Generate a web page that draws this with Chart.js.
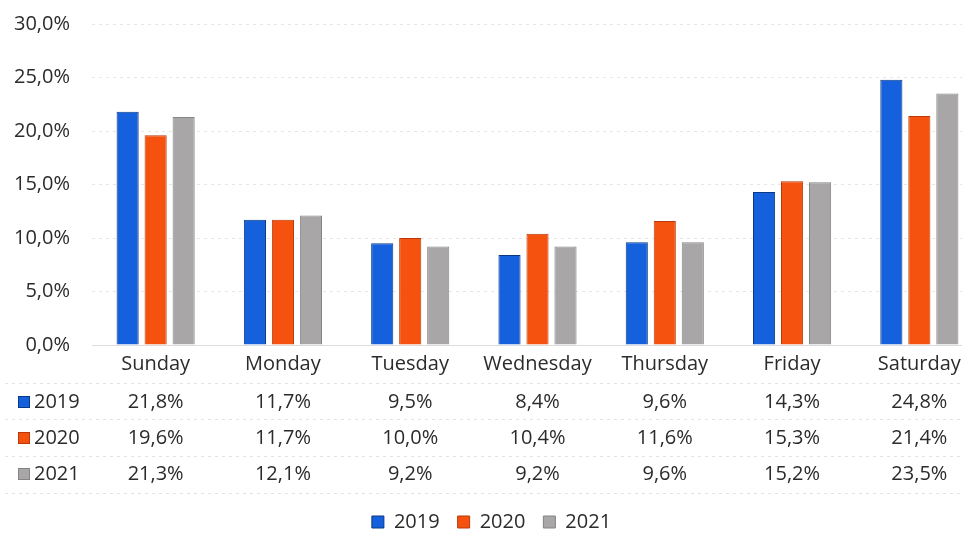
<script src="https://cdn.jsdelivr.net/npm/chart.js"></script>
<style>
  html, body { margin: 0; padding: 0; background: #fff; overflow: hidden; }
  #wrap { width: 985px; height: 537px; }
</style>
<div id="wrap"><canvas id="days-chart"></canvas></div>
<script>
var days = ["Sunday", "Monday", "Tuesday", "Wednesday", "Thursday", "Friday", "Saturday"];
var years = ["2019", "2020", "2021"];
var share2019 = [21.8, 11.7, 9.5, 8.4, 9.6, 14.3, 24.8];
var share2020 = [19.6, 11.7, 10.0, 10.4, 11.6, 15.3, 21.4];
var share2021 = [21.3, 12.1, 9.2, 9.2, 9.6, 15.2, 23.5];
var yTicks = [0, 5, 10, 15, 20, 25, 30];

var fills = ["#1560dc", "#f4520e", "#a9a6a8"];
var borders = ["#0c3784", "#b83a0a", "#858385"];
var textColor = "#2b2b2b";
var fontFamily = "'Open Sans', sans-serif";

function pct(v) {
  return v.toFixed(1).replace(".", ",") + "%";
}

// data table under the x axis, placed by the x scale
var dataTable = {
  id: "dataTable",
  afterDraw: function (chart) {
    var ctx = chart.ctx;
    var xs = chart.scales.x;
    var base = chart.chartArea.bottom;
    var rows = [share2019, share2020, share2021];
    ctx.save();
    ctx.strokeStyle = "#e2e2e2";
    ctx.lineWidth = 1;
    ctx.setLineDash([3, 4]);
    [38, 74, 111, 148].forEach(function (off) {
      ctx.beginPath();
      ctx.moveTo(5, base + off + 0.5);
      ctx.lineTo(chart.width, base + off + 0.5);
      ctx.stroke();
    });
    ctx.setLineDash([]);
    ctx.font = "20px " + fontFamily;
    ctx.textBaseline = "middle";
    rows.forEach(function (row, r) {
      var y = base + 57 + r * 36;
      ctx.fillStyle = fills[r];
      ctx.fillRect(18, y - 6, 12, 12);
      ctx.strokeStyle = borders[r];
      ctx.strokeRect(18.5, y - 5.5, 11, 11);
      ctx.fillStyle = textColor;
      ctx.textAlign = "left";
      ctx.fillText(years[r], 34, y);
      ctx.textAlign = "center";
      row.forEach(function (v, i) {
        ctx.fillText(pct(v), xs.getPixelForValue(i), y);
      });
    });
    ctx.restore();
  }
};

var ctxDays = document.getElementById("days-chart");

var chart = new Chart(ctxDays, {
  type: "bar",
  data: {
    labels: days,
    datasets: [share2019, share2020, share2021].map(function (d, i) {
      return {
        label: years[i],
        data: d,
        backgroundColor: fills[i],
        borderColor: borders[i],
        borderWidth: 1,
        barPercentage: 0.79,
        categoryPercentage: 0.66
      };
    })
  },
  options: {
    responsive: true,
    maintainAspectRatio: false,
    animation: false,
    layout: { padding: { top: 24, right: 2, left: 0, bottom: -5 } },
    plugins: {
      tooltip: { enabled: false },
      legend: {
        position: "bottom",
        labels: {
          boxWidth: 12,
          boxHeight: 12,
          padding: 18,
          color: textColor,
          font: { family: fontFamily, size: 20 }
        }
      }
    },
    scales: {
      x: {
        grid: { display: false, drawTicks: false },
        border: { display: true, color: "#dcdcdc", dash: [3, 4] },
        ticks: { color: textColor, padding: 7, font: { family: fontFamily, size: 20 } },
        afterFit: function (s) { s.height = 149; }
      },
      y: {
        min: 0,
        max: 30,
        afterBuildTicks: function (s) { s.ticks = yTicks.map(function (v) { return { value: v }; }); },
        afterFit: function (s) { s.width = 92; s.paddingTop = 0; s.paddingBottom = 0; },
        grid: { color: "#e6e6e6", drawTicks: false },
        border: { display: false, dash: [3, 4] },
        ticks: {
          color: textColor,
          padding: 22,
          font: { family: fontFamily, size: 20 },
          callback: function (v) { return pct(v); }
        }
      }
    }
  },
  plugins: [dataTable]
});
</script>
